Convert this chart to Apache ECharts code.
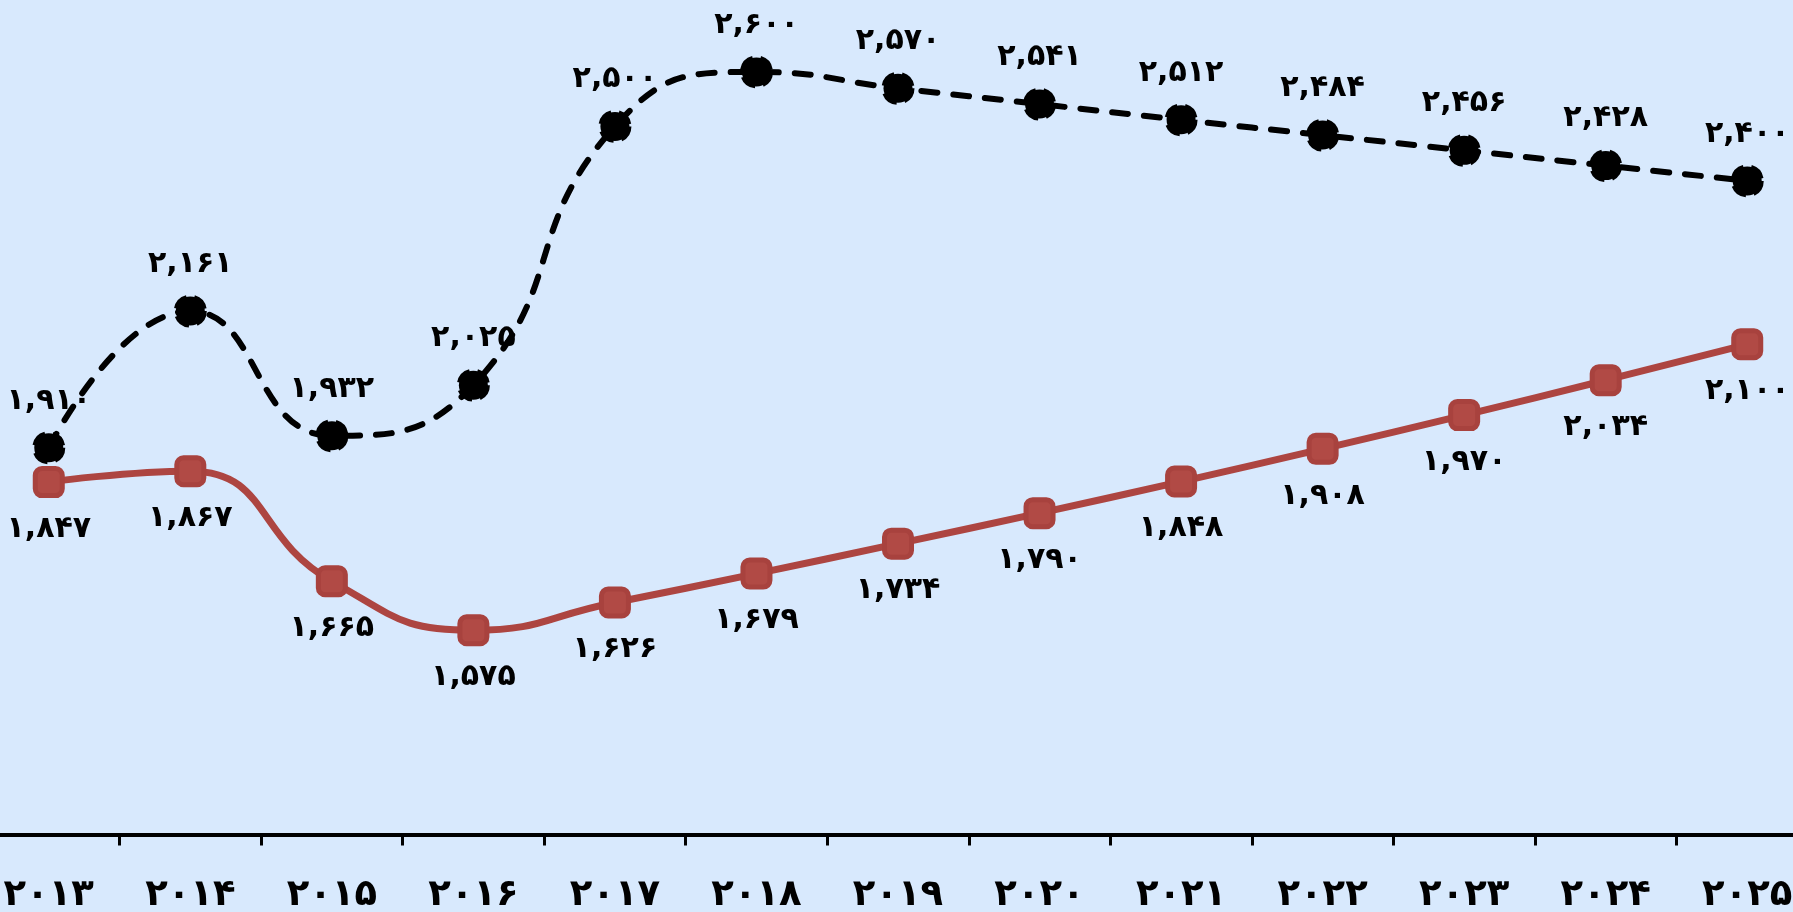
<!DOCTYPE html>
<html><head><meta charset="utf-8">
<script src="https://cdn.jsdelivr.net/npm/echarts@6/dist/echarts.min.js"></script>
<style>html,body{margin:0;padding:0;background:#d8e9fd;}#c{width:1793px;height:912px;}</style>
</head><body><div id="c"></div>
<script>
const years = ['2013','2014','2015','2016','2017','2018','2019','2020','2021','2022','2023','2024','2025'];
const seriesBlack = [1910, 2161, 1932, 2025, 2500, 2600, 2570, 2541, 2512, 2484, 2456, 2428, 2400];
const seriesRed = [1847, 1867, 1665, 1575, 1626, 1679, 1734, 1790, 1848, 1908, 1970, 2034, 2100];

const fa = s => String(s).replace(/\d/g, d => '۰۱۲۳۴۵۶۷۸۹'[+d]);
const fmtNum = v => fa(Number(v).toLocaleString('en-US'));
const FONT = 'DejaVu Sans';

const chart = echarts.init(document.getElementById('c'));
chart.setOption({
  backgroundColor: '#d8e9fd',
  animation: false,
  grid: { left: -22, width: 1840, top: -37, bottom: 77.5, outerBoundsMode: 'none', containLabel: false },
  xAxis: {
    type: 'category', data: years, boundaryGap: true,
    axisLine: { show: true, lineStyle: { color: '#000', width: 4 } },
    axisTick: { show: true, length: 11, lineStyle: { color: '#000', width: 3 } },
    axisLabel: { formatter: v => fa(v), fontFamily: FONT, fontWeight: 'bold', fontSize: 37, color: '#000', margin: 42 }
  },
  yAxis: { type: 'value', min: 1200, max: 2800, show: false, splitLine: { show: false } },
  series: [
    { type: 'line', data: seriesRed, smooth: 0.5, z: 3,
      symbol: 'roundRect', symbolSize: 27,
      lineStyle: { color: '#ad4541', width: 7 },
      itemStyle: { color: '#b14a45', borderColor: '#a8423e', borderWidth: 5 } },
    { type: 'line', data: seriesBlack, smooth: 0.5, z: 4,
      symbol: 'circle', symbolSize: 29,
      lineStyle: { color: '#000', width: 6, type: [16, 16], cap: 'round' },
      itemStyle: { color: '#000', borderColor: '#000', borderWidth: 4, borderType: 'dashed' } },
    { type: 'line', data: seriesRed, z: 1, symbol: 'roundRect', symbolSize: 30,
      lineStyle: { width: 0, color: 'rgba(0,0,0,0)' }, itemStyle: { color: 'rgba(0,0,0,0)', borderWidth: 0 }, silent: true,
      label: { show: true, position: 'bottom', distance: 17, formatter: p => fmtNum(p.value),
               fontFamily: FONT, fontWeight: 'bold', fontSize: 30, color: '#000' } },
    { type: 'line', data: seriesBlack, z: 1, symbol: 'circle', symbolSize: 30,
      lineStyle: { width: 0, color: 'rgba(0,0,0,0)' }, itemStyle: { color: 'rgba(0,0,0,0)', borderWidth: 0 }, silent: true,
      label: { show: true, position: 'top', distance: 17, formatter: p => fmtNum(p.value),
               fontFamily: FONT, fontWeight: 'bold', fontSize: 30, color: '#000' } }
  ]
});
</script></body></html>
